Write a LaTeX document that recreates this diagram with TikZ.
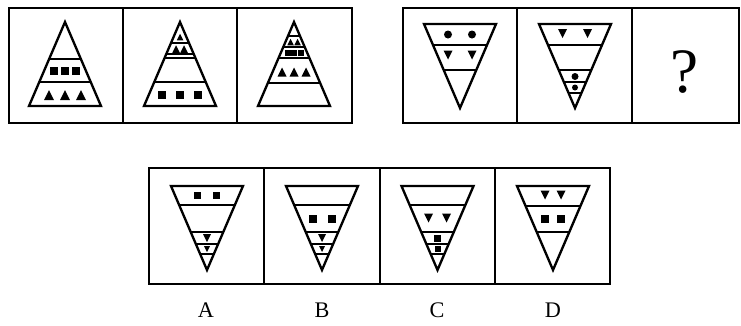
\documentclass[tikz,border=0pt]{standalone}
\usepackage{fontspec}
\setmainfont{Liberation Serif}
\usepackage{tikz}
% outline of a triangle: apex / top centre at (#1,#2), 72 wide, 84 high
\newcommand{\upfig}[2]{\draw[fig] (#1,#2) -- ++(36,84) -- ++(-72,0) -- cycle;}
\newcommand{\dnfig}[2]{\draw[fig] (#1-36,#2) -- ++(72,0) -- ++(-36,84) -- cycle;}
% a cut across the triangle at height #3
\newcommand{\upcut}[3]{\draw[cut] ({#1-36*(#3-#2)/84},#3) -- ({#1+36*(#3-#2)/84},#3);}
\newcommand{\dncut}[3]{\draw[cut] ({#1-36*(#2+84-#3)/84},#3) -- ({#1+36*(#2+84-#3)/84},#3);}
% small black marks: centre (#1,#2), size #3
\newcommand{\sqm}[3]{\fill ({#1-#3/2},{#2-#3/2}) rectangle ({#1+#3/2},{#2+#3/2});}
\newcommand{\tup}[3]{\fill (#1,{#2-#3/2}) -- ({#1+#3/2},{#2+#3/2}) -- ({#1-#3/2},{#2+#3/2}) -- cycle;}
\newcommand{\tdn}[3]{\fill (#1,{#2+#3/2}) -- ({#1+#3/2},{#2-#3/2}) -- ({#1-#3/2},{#2-#3/2}) -- cycle;}
\newcommand{\dotm}[3]{\fill (#1,#2) circle[radius=#3];}

\begin{document}
\begin{tikzpicture}[
  x=0.03cm, y=-0.03cm,
  box/.style={line width=2.1pt},
  fig/.style={line width=2pt, line join=miter},
  cut/.style={line width=1.8pt},
  letter/.style={anchor=base, font=\fontsize{19}{19}\selectfont},
]
\useasboundingbox (0,0) rectangle (741,325);

% === Frames ===
\draw[box] (9,8) rectangle (352,123);
\foreach \x in {123,237} \draw[box] (\x,8) -- (\x,123);
\draw[box] (403,8) rectangle (739,123);
\foreach \x in {517,632} \draw[box] (\x,8) -- (\x,123);
\draw[box] (149,168) rectangle (610,284);
\foreach \x in {264,380,495} \draw[box] (\x,168) -- (\x,284);

% === Top left: upright triangles ===
% first
\upfig{65}{22}
\upcut{65}{22}{59} \upcut{65}{22}{82}
\foreach \d in {-11,0,11} {\sqm{65+\d}{70.5}{8}}
\foreach \d in {-16,0,16} {\tup{65+\d}{95}{10}}
% second
\upfig{180}{22}
\upcut{180}{22}{82} \upcut{180}{22}{58} \upcut{180}{22}{54} \upcut{180}{22}{43}
\foreach \d in {-18,0,18} {\sqm{180+\d}{95}{7.5}}
\foreach \d in {-4,4} {\tup{180+\d}{49}{7.5}}
\tup{180}{37}{6.5}
% third
\upfig{294}{22}
\upcut{294}{22}{83} \upcut{294}{22}{58} \upcut{294}{22}{47} \upcut{294}{22}{36}
\foreach \d in {-12,0,12} {\tup{294+\d}{72}{9}}
\foreach \d in {-6.5,0,6.5} {\sqm{294+\d}{53}{6}}
\foreach \d in {-3.5,3.5} {\tup{294+\d}{42}{6.5}}

% === Top right: inverted triangles ===
\dnfig{460}{24}
\dncut{460}{24}{45} \dncut{460}{24}{70}
\foreach \d in {-12,12} {\dotm{460+\d}{34.5}{4}}
\foreach \d in {-12,12} {\tdn{460+\d}{55}{9}}
\dnfig{575}{24}
\dncut{575}{24}{45} \dncut{575}{24}{70} \dncut{575}{24}{82} \dncut{575}{24}{93}
\foreach \d in {-12.5,12.5} {\tdn{575+\d}{33.5}{9}}
\dotm{575}{76.5}{3.5}
\dotm{575}{87.5}{3}
\node[anchor=base, font=\fontsize{54}{54}\selectfont] (qmark) at (685,92) {?};

% === Options A--D ===
% A
\dnfig{207}{186}
\foreach \y in {205,232,244,254} {\dncut{207}{186}{\y}}
\foreach \d in {-9.5,9.5} {\sqm{207+\d}{195.5}{7.5}}
\tdn{207}{238}{8} \tdn{207}{249}{6}
% B
\dnfig{322}{186}
\foreach \y in {205,232,244,254} {\dncut{322}{186}{\y}}
\foreach \d in {-9.5,9.5} {\sqm{322+\d}{219}{8}}
\tdn{322}{238}{8} \tdn{322}{249}{6}
% C
\dnfig{437.5}{186}
\foreach \y in {205,232,244,254} {\dncut{437.5}{186}{\y}}
\foreach \d in {-9,9} {\tdn{437.5+\d}{218}{9}}
\sqm{437.5}{238.5}{7} \sqm{437.5}{249}{6}
% D
\dnfig{553}{186}
\dncut{553}{186}{206} \dncut{553}{186}{232}
\foreach \d in {-8,8} {\tdn{553+\d}{195}{9}}
\foreach \d in {-8,8} {\sqm{553+\d}{219}{8}}

% labels
\foreach \n/\x in {A/206,B/322,C/437,D/553} {
  \node[letter] (lab\n) at (\x,317) {\n};
}
\end{tikzpicture}
\end{document}
